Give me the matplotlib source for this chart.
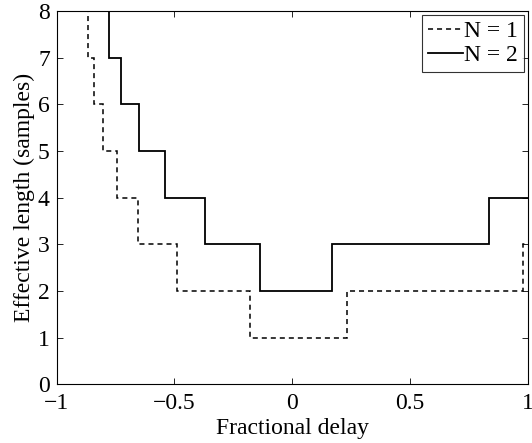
import numpy as np
import matplotlib
matplotlib.use('Agg')
import matplotlib.pyplot as plt

# step edges (fractional delay) and effective length
n1_edges = [-0.885, -0.867, -0.843, -0.803, -0.746, -0.655, -0.489, -0.179, 0.233, 0.98, 1.0]
n1_len = [8, 7, 6, 5, 4, 3, 2, 1, 2, 3]

n2_edges = [-0.821, -0.776, -0.725, -0.651, -0.540, -0.370, -0.137, 0.167, 0.835, 1.0]
n2_len = [8, 7, 6, 5, 4, 3, 2, 3, 4]

plt.rcParams['font.family'] = 'Liberation Serif'
plt.rcParams['font.size'] = 17

fig = plt.figure(figsize=(5.32, 4.43), dpi=100)
ax = fig.add_axes([0.1066, 0.1325, 0.8853, 0.8427])

ax.stairs(n1_len, n1_edges, baseline=None, color='black', linestyle=(0, (3.3, 2.6)),
          linewidth=1.1, label='N = 1')
ax.stairs(n2_len, n2_edges, baseline=None, color='black', linewidth=1.3, label='N = 2')

ax.set_xlim(-1, 1)
ax.set_ylim(0, 8)
ax.set_xticks([-1, -0.5, 0, 0.5, 1])
ax.set_xticklabels(['\u22121', '\u22120.5', '0', '0.5', '1'])
ax.set_yticks(range(9))
ax.tick_params(direction='in', top=True, right=True, length=4, width=0.6)
ax.tick_params(axis='x', pad=6)
ax.tick_params(axis='y', pad=5)
for s in ax.spines.values():
    s.set_linewidth(0.8)
ax.set_xlabel('Fractional delay', labelpad=3)
ax.set_ylabel('Effective length (samples)', labelpad=2)

leg = ax.legend(loc='upper right', handlelength=1.5, handletextpad=0.05, borderpad=0.25,
                labelspacing=0.12, borderaxespad=0.15, fancybox=False, frameon=True)
leg.get_frame().set_edgecolor('black')
leg.get_frame().set_linewidth(0.8)

fig.savefig('out.png', dpi=100)
